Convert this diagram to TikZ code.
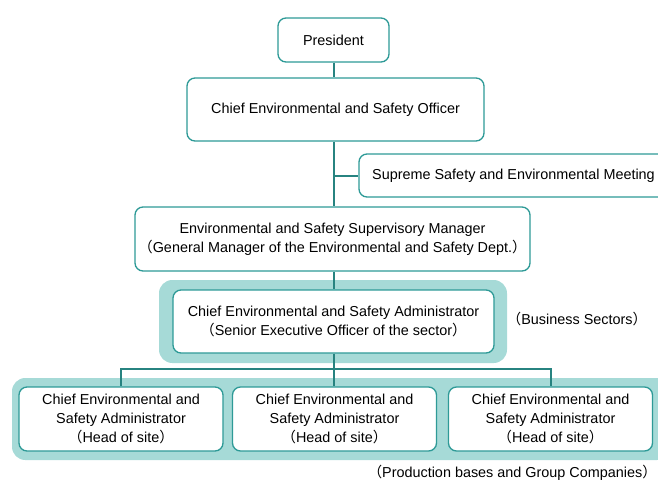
\documentclass[tikz,border=0pt]{standalone}
\usepackage{fontspec}
\setmainfont{Liberation Sans}
\newfontfamily\cjk{Noto Sans CJK JP}
\usepackage{tikz}
\newcommand{\lpar}{{\cjk （}}
\newcommand{\rpar}{{\cjk ）}}
\definecolor{tealline}{HTML}{2E9A97}
\definecolor{tealband}{HTML}{A6DAD7}
\tikzset{
  post/.style={draw=tealline, line width=1pt, rounded corners=6pt, fill=white, align=center, inner sep=0pt},
  band/.style={fill=tealband, rounded corners=10pt},
  link/.style={draw=tealline!85!black, line width=1.5pt},
}

\begin{document}
\begin{tikzpicture}[x=0.75pt, y=-0.75pt, font=\fontsize{10.8pt}{14.25pt}\selectfont]
    \useasboundingbox (0,0) rectangle (658,480);
    \clip (0,0) rectangle (658,480);
    % bands
    \fill[band] (159,280) rectangle (507,363);
    \fill[band] (12,378) rectangle (670,460);
    % posts
    \node[post, minimum width=83.25pt, minimum height=33pt]    (pres)  at (333.5,40)  {President};
    \node[post, minimum width=222.75pt, minimum height=47.25pt] (ceso)  at (335.5,109.5) {Chief Environmental and Safety Officer};
    \node[post, minimum width=231.75pt, minimum height=32.25pt] (meet)  at (513.5,175.5) {Supreme Safety and Environmental Meeting};
    \node[post, minimum width=296.25pt, minimum height=48pt]    (super) at (332.5,239) {Environmental and Safety Supervisory Manager\\\lpar General Manager of the Environmental and Safety Dept.\rpar};
    \node[post, minimum width=240.75pt, minimum height=47.25pt] (sect)  at (333.5,321.5) {Chief Environmental and Safety Administrator\\\lpar Senior Executive Officer of the sector\rpar};
    \node[post, minimum width=153pt, minimum height=48pt] (site1) at (121,419)   {Chief Environmental and\\Safety Administrator\\\lpar Head of site\rpar};
    \node[post, minimum width=153pt, minimum height=48pt] (site2) at (334.5,419) {Chief Environmental and\\Safety Administrator\\\lpar Head of site\rpar};
    \node[post, minimum width=153pt, minimum height=48pt] (site3) at (550.5,419) {Chief Environmental and\\Safety Administrator\\\lpar Head of site\rpar};
    \node (sectors) at (577,319) {\lpar Business Sectors\rpar};
    \node[anchor=east, inner sep=0pt] (prod) at (657,473) {\lpar Production bases and Group Companies\rpar};
    % links
    \coordinate (bus) at (334,369);
    \draw[link] (pres.south) -- (pres.south |- ceso.north);
    \draw[link] (pres.south |- ceso.south) -- (pres.south |- super.north);
    \draw[link] (pres.south |- meet.west) -- (meet.west);
    \draw[link] (pres.south |- super.south) -- (pres.south |- sect.north);
    \draw[link] (pres.south |- sect.south) -- (pres.south |- site2.north);
    \draw[link] (site1.north) |- (bus) -| (site3.north);
\end{tikzpicture}
\end{document}
